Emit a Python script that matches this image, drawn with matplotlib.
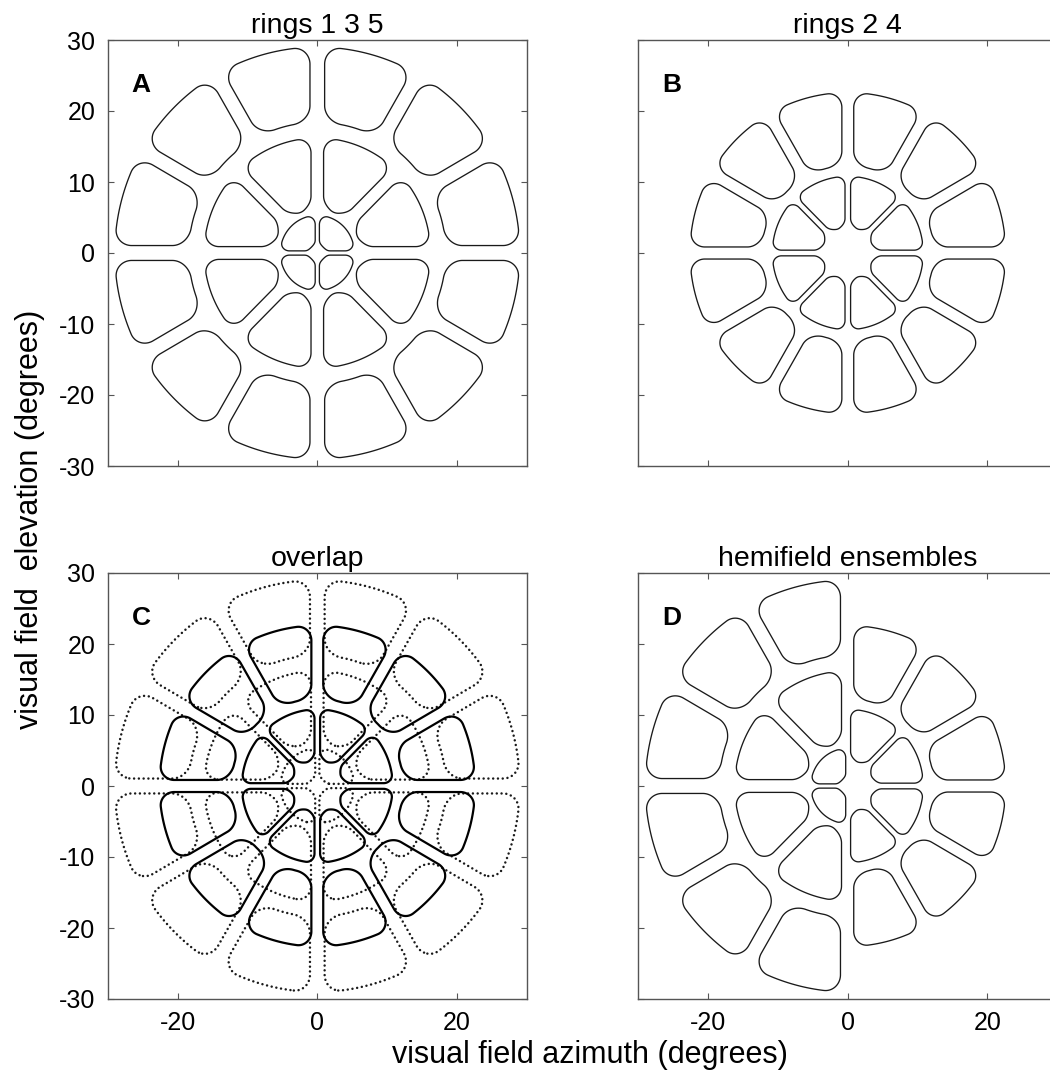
import numpy as np
import matplotlib.pyplot as plt

plt.rcParams['font.family'] = ['Liberation Sans', 'DejaVu Sans']
plt.rcParams['axes.unicode_minus'] = False

# ring geometry (degrees of visual angle)
# rings 1 3 5
odd_inner = [0.6, 6.0, 18.4]
odd_outer = [5.3, 16.2, 29.0]
odd_count = [4, 8, 12]
odd_gap = [0.6, 1.8, 2.1]
odd_round = [1.3, 2.1, 2.4]

# rings 2 4
even_inner = [3.6, 12.3]
even_outer = [10.8, 22.6]
even_count = [8, 12]
even_gap = [0.8, 1.7]
even_round = [1.3, 2.1]

titles = ['rings 1 3 5', 'rings 2 4', 'overlap', 'hemifield ensembles']
letters = ['A', 'B', 'C', 'D']

step = 0.04
xs = np.arange(-31, 31 + step, step)
X, Y = np.meshgrid(xs, xs)
R = np.hypot(X, Y)
T = np.mod(np.arctan2(Y, X), 2 * np.pi)


def ring_field(inner, outer, count, gap, rnd):
    # >0 inside a patch: annular sector shrunk by half the gap, corners rounded
    field = np.full(X.shape, -np.inf)
    for r0, r1, n, g, rho in zip(inner, outer, count, gap, rnd):
        w = 2 * np.pi / n
        a = np.mod(T, w)
        edges = [R - r0, r1 - R,
                 R * np.sin(a) - g / 2, R * np.sin(w - a) - g / 2]
        short = sum(np.clip(rho - e, 0, None) ** 2 for e in edges)
        field = np.maximum(field, rho - np.sqrt(short))
    return field


F_odd = ring_field(odd_inner, odd_outer, odd_count, odd_gap, odd_round)
F_even = ring_field(even_inner, even_outer, even_count, even_gap, even_round)
F_hemi = np.where(X < 0, F_odd, F_even)

fig = plt.figure(figsize=(10.5, 10.79), dpi=100)
W, H = 1050, 1079
boxes = [(107.8, 40, 419, 426), (638.3, 40, 419, 426),
         (107.8, 573, 419, 426), (638.3, 573, 419, 426)]
axes = [fig.add_axes([l / W, 1 - (t + h) / H, w / W, h / H]) for l, t, w, h in boxes]

line_col = '#1a1a1a'
thin = 0.95

axes[0].contour(X, Y, F_odd, levels=[0], colors=line_col, linewidths=thin)
axes[1].contour(X, Y, F_even, levels=[0], colors=line_col, linewidths=thin)
cs = axes[2].contour(X, Y, F_odd, levels=[0], colors=line_col, linewidths=1.8)
cs.set_linestyle((0, (0.01, 1.9)))
cs.set_capstyle('round')
axes[2].contour(X, Y, F_even, levels=[0], colors='black', linewidths=1.6)
axes[3].contour(X, Y, F_hemi, levels=[0], colors=line_col, linewidths=thin)

for i, ax in enumerate(axes):
    ax.set_xlim(-30, 30)
    ax.set_ylim(-30, 30)
    ax.set_xticks([-20, 0, 20])
    ax.set_yticks(range(-30, 31, 10))
    ax.tick_params(direction='in', top=True, right=True, length=4, width=0.8,
                   color='#555555', labelsize=18, pad=9,
                   labelbottom=i >= 2, labelleft=i % 2 == 0)
    for s in ax.spines.values():
        s.set_color('#555555')
        s.set_linewidth(1.0)
    ax.set_title(titles[i], fontsize=20.5, pad=5)
    ax.text(-26.6, 23.6, letters[i], fontsize=19, fontweight='bold',
            ha='left', va='center')

fig.text(0.562, 0.022, 'visual field azimuth (degrees)', ha='center',
         va='center', fontsize=22)
fig.text(0.029, 0.519, 'visual field  elevation (degrees)', ha='center',
         va='center', rotation=90, fontsize=22)

fig.savefig('out.png', dpi=100)
